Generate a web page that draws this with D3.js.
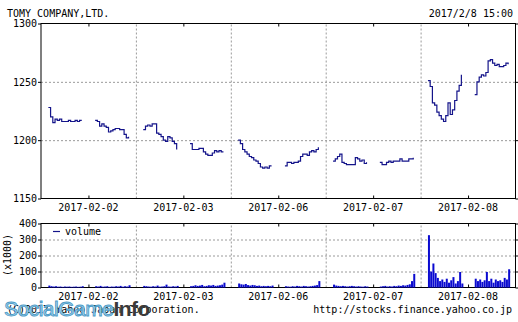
<!DOCTYPE html>
<html><head><meta charset="utf-8">
<script src="https://cdn.jsdelivr.net/npm/d3@7"></script>
<style>
body{margin:0;background:#fff;}
svg{display:block;}
text{font-family:"DejaVu Sans Mono",monospace;font-size:10px;fill:#000;}
</style></head><body>
<svg id="c" width="518" height="322"></svg>
<script>
const title = "TOMY COMPANY,LTD.";
const stamp = "2017/2/8 15:00";
const days = ["2017-02-02","2017-02-03","2017-02-06","2017-02-07","2017-02-08"];
const priceTicks = [1150, 1200, 1250, 1300];
const volTicks = [0, 100, 200, 300, 400];
// prices sampled every 10 min, morning (9:00-11:30) and afternoon (12:30-15:00)
const priceAM = [
  [1228,1220,1215,1218,1217,1218,1216,1216,1216,1217,1216,1216,1217,1216,1217,1217],
  [1209,1212,1213,1212,1214,1214,1206,1205,1203,1200,1199,1203,1202,1199,1197,1192],
  [1200,1197,1192,1190,1188,1186,1185,1183,1182,1180,1177,1176,1177,1176,1178,1178],
  [1182,1184,1186,1188,1181,1180,1179,1179,1179,1179,1185,1184,1182,1183,1180,1181],
  [1251,1246,1232,1230,1224,1221,1218,1216,1221,1232,1222,1226,1234,1242,1247,1256]
];
const pricePM = [
  [1217,1216,1212,1214,1212,1211,1207,1208,1209,1210,1210,1209,1209,1205,1202,1203],
  [1197,1192,1192,1192,1193,1193,1190,1188,1187,1187,1189,1191,1190,1191,1190,1190],
  [1178,1181,1181,1180,1181,1181,1182,1186,1188,1188,1187,1190,1191,1190,1192,1194],
  [1181,1179,1179,1181,1182,1181,1182,1182,1182,1184,1182,1182,1182,1184,1184,1185],
  [1239,1250,1254,1256,1255,1258,1268,1269,1266,1264,1265,1263,1263,1264,1266,1265]
];
// volume (x1000)
const volAM = [
  [12,8,6,8,5,6,4,6,5,6,4,5,6,4,5,8],
  [10,8,6,5,8,6,12,5,6,8,18,6,5,8,6,10],
  [25,20,18,22,15,12,16,14,10,12,8,10,8,10,8,12],
  [18,12,10,8,10,8,6,8,10,8,6,8,6,5,8,6],
  [327,100,150,90,60,40,50,35,55,30,45,65,25,40,97,25]
];
const volPM = [
  [8,6,10,5,6,8,4,6,5,8,6,10,5,8,6,14],
  [8,10,14,10,12,16,8,10,14,12,16,10,12,14,18,30],
  [8,6,5,8,6,10,8,6,10,8,6,8,10,12,15,40],
  [6,8,10,6,8,6,10,8,12,10,14,12,16,20,40,85],
  [55,40,50,35,45,97,40,55,30,50,40,45,35,60,50,114]
];

const DAY = 426, PAD = 33, STEP = 10, PM_START = 210;
const L = 41, R = 515.5;
const svg = d3.select("#c");
const x = d3.scaleLinear().domain([0, days.length * DAY]).range([L, R]);
const yP = d3.scaleLinear().domain([1150, 1300]).range([198.5, 23.5]);
const yV = d3.scaleLinear().domain([0, 400]).range([287.5, 223.5]);

function sessions(am, pm) {
  const out = [];
  days.forEach((d, di) => {
    [[am[di], 0], [pm[di], PM_START]].forEach(([arr, off]) => {
      out.push(arr.map((v, i) => ({t: di * DAY + PAD + off + i * STEP, v})));
    });
  });
  return out;
}
const pSess = sessions(priceAM, pricePM);
const vSess = sessions(volAM, volPM);

const gridColor = "#9a9a9a";
const boundaries = d3.range(1, days.length).map(d => d * DAY);
const mids = days.map((d, i) => (i + 0.5) * DAY);

function panel(y, ticks, top, bottom, gridVals) {
  const g = svg.append("g");
  g.append("g").attr("transform", `translate(${L},0)`)
    .call(d3.axisLeft(y).tickValues(gridVals).tickSize(-(R - L)).tickFormat(""))
    .call(a => a.select(".domain").remove())
    .selectAll("line").attr("stroke", gridColor).attr("stroke-dasharray", "2,2");
  g.append("g").attr("transform", `translate(0,${bottom})`)
    .call(d3.axisBottom(x).tickValues(boundaries).tickSize(-(bottom - top)).tickFormat(""))
    .call(a => a.select(".domain").remove())
    .selectAll("line").attr("stroke", gridColor).attr("stroke-dasharray", "2,2");
  g.append("g").attr("transform", `translate(${L},0)`)
    .call(d3.axisLeft(y).tickValues(ticks).tickSize(3).tickPadding(1).tickFormat(d3.format("d")))
    .call(a => a.select(".domain").remove())
    .call(a => a.selectAll("text").style("font-family", '"DejaVu Sans Mono",monospace').style("font-size", "10px").attr("fill", "#000"));
  g.append("g").attr("transform", `translate(${R},0)`)
    .call(d3.axisRight(y).tickValues(ticks).tickSize(3).tickFormat(""))
    .call(a => a.select(".domain").remove());
  g.append("g").attr("transform", `translate(0,${top})`)
    .call(d3.axisBottom(x).tickValues(mids).tickSize(3).tickFormat(""))
    .call(a => a.select(".domain").remove());
  g.append("g").attr("transform", `translate(0,${bottom})`)
    .call(d3.axisTop(x).tickValues(mids).tickSize(3).tickFormat(""))
    .call(a => a.select(".domain").remove());
  g.append("g").selectAll("text").data(days).join("text")
    .attr("x", (d, i) => x(mids[i])).attr("y", bottom + 12)
    .attr("text-anchor", "middle").text(d => d);
  g.append("rect").attr("x", L).attr("y", top).attr("width", R - L).attr("height", bottom - top)
    .attr("fill", "none").attr("stroke", "#000").attr("stroke-width", 1);
  return g;
}

const topP = yP(1300), botP = yP(1150);
panel(yP, priceTicks, topP, botP, [1200, 1250]);
const topV = yV(400), botV = yV(0);
panel(yV, volTicks, topV, botV, [100, 200, 300]);

const line = d3.line().x(d => x(d.t)).y(d => yP(d.v)).curve(d3.curveStepAfter);
svg.append("g").selectAll("path").data(pSess).join("path")
  .attr("d", line).attr("fill", "none").attr("stroke", "#14148a").attr("stroke-width", 1.2);

svg.append("g").selectAll("rect").data(vSess.flat()).join("rect")
  .attr("x", d => x(d.t)).attr("width", 2)
  .attr("y", d => yV(d.v)).attr("height", d => yV(0) - yV(d.v))
  .attr("fill", "#0a0ad0");

svg.append("line").attr("x1", 53).attr("x2", 60).attr("y1", 231.5).attr("y2", 231.5)
  .attr("stroke", "#14148a").attr("stroke-width", 1.2);
svg.append("text").attr("x", 65).attr("y", 235).text("volume");

svg.append("text").attr("transform", "translate(11,255) rotate(-90)")
  .attr("text-anchor", "middle").text("(x1000)");

svg.append("text").attr("x", 7).attr("y", 17).text(title);
svg.append("text").attr("x", 513).attr("y", 17).attr("text-anchor", "end").text(stamp);

svg.append("text").attr("x", 7).attr("y", 313).text("(C)2017 Yahoo Japan Corporation.");
svg.append("text").attr("x", 512).attr("y", 313).attr("text-anchor", "end").text("http://stocks.finance.yahoo.co.jp");

const wm = svg.append("text").attr("x", 4).attr("y", 316)
  .style("font-family", '"Liberation Sans",Arial,sans-serif').style("font-size", "21px").style("letter-spacing", "-0.5px");
wm.append("tspan").text("Social").attr("fill", "#a9d4ec").attr("stroke", "#4d9cc8").attr("stroke-width", 0.9);
wm.append("tspan").text("Game").attr("fill", "#a9d4ec").attr("stroke", "#4d9cc8").attr("stroke-width", 0.9);
wm.append("tspan").text("Info").attr("fill", "#3a3a3a").style("font-weight", "bold");
</script>
</body></html>
